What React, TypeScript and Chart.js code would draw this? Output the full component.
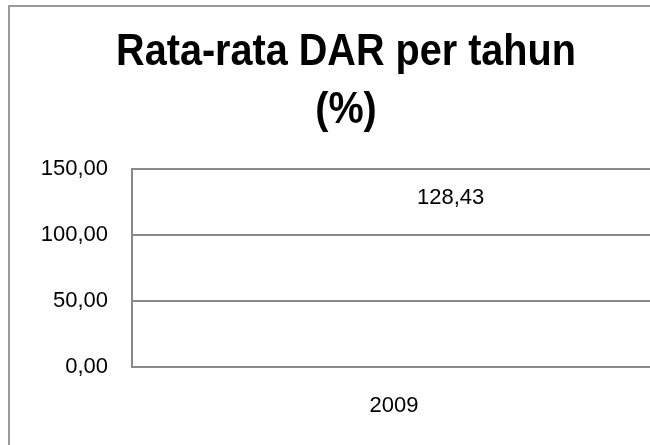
import { useEffect, useRef } from 'react';
import { Chart, registerables } from 'chart.js';

Chart.register(...registerables);

const categories = ['2009'];
const darValues = [128.43];
const yTickValues = [0, 50, 100, 150];
const titleLines = ['Rata-rata DAR per tahun', '(%)'];

const FONT = '"Liberation Sans", Arial, sans-serif';
const TITLE_CONDENSE = 0.9;
const fmt = (v: number) => v.toFixed(2).replace('.', ',');

const dataLabelPlugin = {
  id: 'dataLabelRight',
  afterDatasetsDraw(chart: any) {
    const ctx = chart.ctx;
    const meta = chart.getDatasetMeta(0);
    ctx.save();
    ctx.font = `22px ${FONT}`;
    ctx.fillStyle = '#000000';
    ctx.textAlign = 'left';
    ctx.textBaseline = 'middle';
    meta.data.forEach((pt: any, i: number) => {
      const v = chart.data.datasets[0].data[i] as number;
      ctx.fillText(fmt(v), pt.x + 23, pt.y);
    });
    ctx.restore();
  },
};

// Draw the Chart.js title slightly condensed horizontally (like a narrow bold face)
const condensedTitlePlugin = {
  id: 'condensedTitle',
  beforeDraw(chart: any) {
    const tb = chart.titleBlock;
    if (!tb || tb.__condensed) return;
    const orig = tb.draw.bind(tb);
    tb.draw = function (area: any) {
      const ctx = chart.ctx;
      const cx = (tb.left + tb.right) / 2;
      ctx.save();
      ctx.translate(cx, 0);
      ctx.scale(TITLE_CONDENSE, 1);
      ctx.translate(-cx, 0);
      orig(area);
      ctx.restore();
    };
    tb.__condensed = true;
  },
};

export default function App() {
  const ref = useRef<HTMLCanvasElement | null>(null);

  useEffect(() => {
    if (!ref.current) return;
    const chart = new Chart(ref.current, {
      type: 'line',
      data: {
        labels: categories,
        datasets: [
          {
            label: 'DAR',
            data: darValues,
            showLine: false,
            pointRadius: 0,
            pointHoverRadius: 0,
            borderColor: 'transparent',
            backgroundColor: 'transparent',
          },
        ],
      },
      options: {
        animation: false,
        responsive: false,
        events: [],
        layout: { padding: { left: 26, right: 26, top: 0, bottom: 60 } },
        plugins: {
          legend: { display: false },
          tooltip: { enabled: false },
          title: {
            display: true,
            text: titleLines,
            color: '#000000',
            font: { family: FONT, size: 44, weight: 'bold', lineHeight: 1.318 },
            padding: { top: 16.5, bottom: 29.5 },
          },
        },
        scales: {
          x: {
            type: 'category',
            offset: true,
            grid: { display: false, drawTicks: false },
            border: { display: false },
            ticks: {
              color: '#000000',
              font: { family: FONT, size: 22 },
              padding: 26,
              maxRotation: 0,
            },
            afterFit: (s: any) => {
              s.height = 60;
            },
          },
          y: {
            min: yTickValues[0],
            max: yTickValues[yTickValues.length - 1],
            grid: { color: '#8a8a8a', lineWidth: 2, drawTicks: false },
            border: { display: true, color: '#8a8a8a', width: 2 },
            ticks: {
              stepSize: yTickValues[1] - yTickValues[0],
              color: '#000000',
              font: { family: FONT, size: 22 },
              padding: 24,
              callback: (v: any) => fmt(Number(v)),
            },
            afterFit: (s: any) => {
              s.width = 96;
            },
          },
        },
      },
      plugins: [dataLabelPlugin, condensedTitlePlugin],
    });
    return () => chart.destroy();
  }, []);

  return (
    <div style={{ position: 'fixed', inset: 0, overflow: 'hidden', background: '#ffffff' }}>
      <div
        style={{
          position: 'absolute',
          left: 8,
          top: 5,
          border: '2px solid #9a9a9a',
          background: '#ffffff',
          width: 672,
          height: 480,
        }}
      >
        <canvas ref={ref} width={672} height={480} style={{ display: 'block' }} />
      </div>
    </div>
  );
}
